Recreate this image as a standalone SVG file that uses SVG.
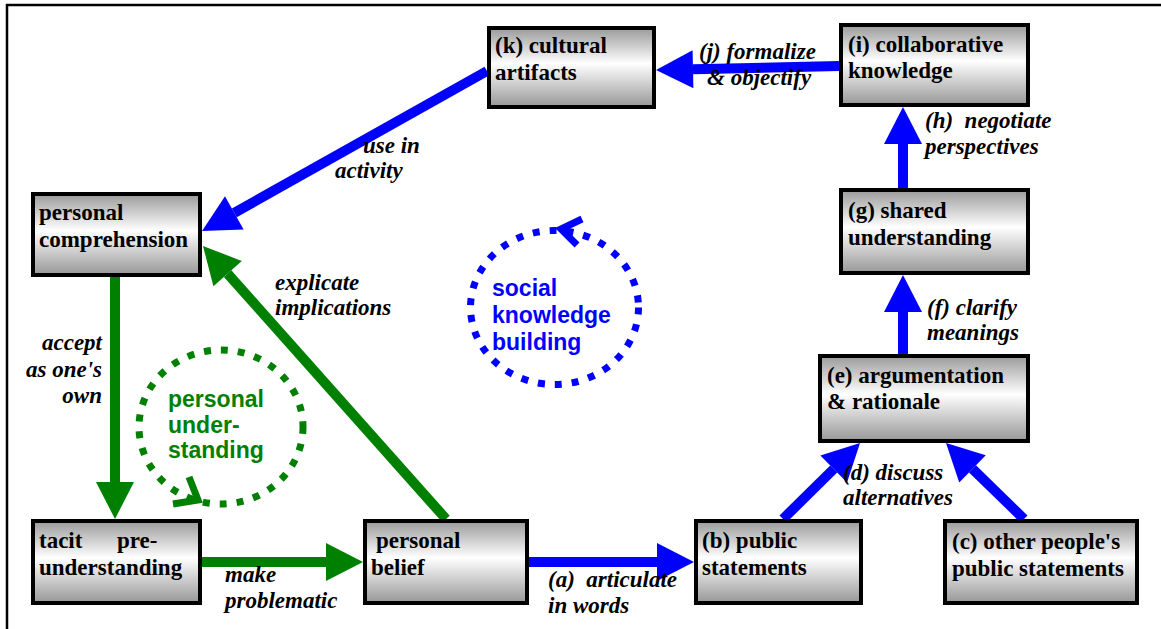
<svg xmlns="http://www.w3.org/2000/svg" width="1161" height="629" viewBox="0 0 1161 629">
<defs>
<linearGradient id="boxfill" x1="0" y1="0" x2="0" y2="1">
<stop offset="0" stop-color="#9a9a9a"/>
<stop offset="0.45" stop-color="#ffffff"/>
<stop offset="1" stop-color="#979797"/>
</linearGradient>
<marker id="hb" viewBox="0 0 37 38" refX="0" refY="19" markerWidth="37" markerHeight="38" markerUnits="userSpaceOnUse" orient="auto" overflow="visible">
<path d="M0,0 L37,19 L0,38 Z" fill="#0000ff"/>
</marker>
<marker id="hg" viewBox="0 0 37 38" refX="0" refY="19" markerWidth="37" markerHeight="38" markerUnits="userSpaceOnUse" orient="auto" overflow="visible">
<path d="M0,0 L37,19 L0,38 Z" fill="#008000"/>
</marker>
<style>
.box{fill:url(#boxfill);stroke:#000;stroke-width:4}
.bt{font-family:"Liberation Serif","Times New Roman",serif;font-weight:bold;font-size:23px;fill:#000}
.lb{font-family:"Liberation Serif","Times New Roman",serif;font-weight:bold;font-style:italic;font-size:23px;fill:#000}
.blue{stroke:#0000ff;stroke-width:10;fill:none;marker-end:url(#hb)}
.green{stroke:#008000;stroke-width:10;fill:none;marker-end:url(#hg)}
.cyc{font-family:"Liberation Sans",Arial,sans-serif;font-weight:bold;font-size:23px}
.dotb{fill:none;stroke:#0000ff;stroke-width:7;stroke-dasharray:7 10}
.dotg{fill:none;stroke:#008000;stroke-width:7;stroke-dasharray:7 10}
</style>
</defs>
<rect width="1161" height="629" fill="#fff"/>
<path d="M7,629 V5 H1161" fill="none" stroke="#000" stroke-width="2.5"/>

<g id="connectors">
<line class="blue" x1="487" y1="71" x2="234.3" y2="212.9"/>
<line class="blue" x1="839" y1="66" x2="693" y2="69.2"/>
<line class="blue" x1="903" y1="188" x2="903" y2="144"/>
<line class="blue" x1="903" y1="354" x2="903" y2="312"/>
<line class="blue" x1="783" y1="519" x2="833.7" y2="469"/>
<line class="blue" x1="1024" y1="519" x2="972.5" y2="468.8"/>
<line class="blue" x1="529" y1="562" x2="657" y2="562"/>
<line class="green" x1="446" y1="519" x2="227.6" y2="273.6"/>
<line class="green" x1="115" y1="277" x2="115" y2="482"/>
<line class="green" x1="202" y1="562" x2="326" y2="562"/>
</g>

<g id="cycle-personal">
<ellipse class="dotg" cx="221" cy="427" rx="82" ry="77"/>
<polyline points="189,477 198,500 173,504" fill="none" stroke="#008000" stroke-width="7" stroke-linejoin="miter"/>
<text class="cyc" fill="#008000"><tspan x="168" y="407">personal</tspan><tspan x="168" y="433">under-</tspan><tspan x="168" y="458">standing</tspan></text>
</g>
<g id="cycle-social">
<ellipse class="dotb" cx="554.5" cy="307.5" rx="84" ry="77"/>
<polyline points="582,219 561,229 577,245" fill="none" stroke="#0000ff" stroke-width="7" stroke-linejoin="miter"/>
<text class="cyc" fill="#0000ff"><tspan x="492" y="296">social</tspan><tspan x="492" y="323">knowledge</tspan><tspan x="492" y="350">building</tspan></text>
</g>

<g id="node-comprehension">
<rect class="box" x="33" y="194" width="167" height="81"/>
<text class="bt"><tspan x="39" y="220">personal</tspan><tspan x="39" y="247">comprehension</tspan></text>
</g>
<g id="node-k">
<rect class="box" x="489" y="28" width="165" height="79"/>
<text class="bt"><tspan x="495" y="53">(k) cultural</tspan><tspan x="495" y="80">artifacts</tspan></text>
</g>
<g id="node-i">
<rect class="box" x="841" y="25" width="187" height="80"/>
<text class="bt"><tspan x="848" y="52">(i) collaborative</tspan><tspan x="848" y="78">knowledge</tspan></text>
</g>
<g id="node-g">
<rect class="box" x="841" y="190" width="187" height="83"/>
<text class="bt"><tspan x="848" y="218">(g) shared</tspan><tspan x="848" y="245">understanding</tspan></text>
</g>
<g id="node-e">
<rect class="box" x="820" y="356" width="208" height="85"/>
<text class="bt"><tspan x="827" y="383">(e) argumentation</tspan><tspan x="827" y="409">&amp; rationale</tspan></text>
</g>
<g id="node-c">
<rect class="box" x="945" y="521" width="192" height="82"/>
<text class="bt"><tspan x="952" y="549">(c) other people's</tspan><tspan x="952" y="576">public statements</tspan></text>
</g>
<g id="node-b">
<rect class="box" x="696" y="521" width="165" height="82"/>
<text class="bt"><tspan x="702" y="548">(b) public</tspan><tspan x="702" y="575">statements</tspan></text>
</g>
<g id="node-belief">
<rect class="box" x="365" y="521" width="162" height="82"/>
<text class="bt"><tspan x="376" y="548">personal</tspan><tspan x="371" y="575">belief</tspan></text>
</g>
<g id="node-tacit">
<rect class="box" x="33" y="521" width="167" height="82"/>
<text class="bt"><tspan x="39" y="548">tacit</tspan><tspan x="117" y="548">pre-</tspan><tspan x="39" y="575">understanding</tspan></text>
</g>

<g id="labels">
<text class="lb"><tspan x="363" y="153">use in</tspan><tspan x="335" y="178">activity</tspan></text>
<text class="lb"><tspan x="699" y="59">(j) formalize</tspan><tspan x="707" y="85">&amp; objectify</tspan></text>
<text class="lb" xml:space="preserve"><tspan x="925" y="128">(h)  negotiate</tspan><tspan x="925" y="154">perspectives</tspan></text>
<text class="lb"><tspan x="927" y="315">(f) clarify</tspan><tspan x="927" y="340">meanings</tspan></text>
<text class="lb"><tspan x="843" y="480">(d) discuss</tspan><tspan x="843" y="505">alternatives</tspan></text>
<text class="lb" xml:space="preserve"><tspan x="548" y="587">(a)  articulate</tspan><tspan x="548" y="613">in words</tspan></text>
<text class="lb"><tspan x="225" y="582">make</tspan><tspan x="225" y="608">problematic</tspan></text>
<text class="lb" text-anchor="end"><tspan x="102" y="350">accept</tspan><tspan x="102" y="377">as one's</tspan><tspan x="102" y="403">own</tspan></text>
<text class="lb"><tspan x="275" y="290">explicate</tspan><tspan x="275" y="315">implications</tspan></text>
</g>
</svg>
